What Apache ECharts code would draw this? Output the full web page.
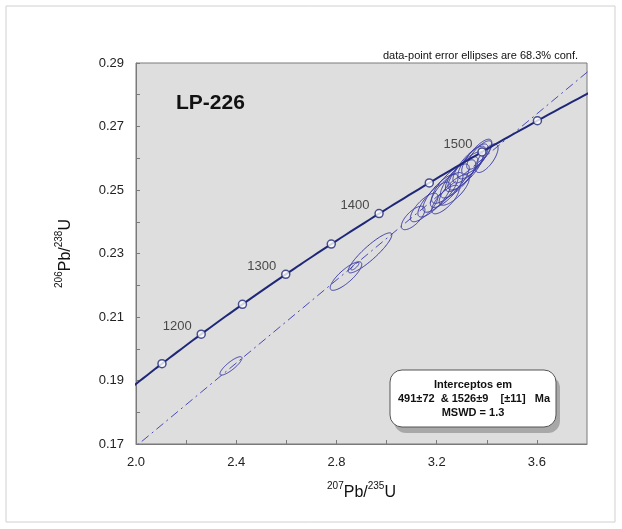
<!DOCTYPE html>
<html><head><meta charset="utf-8">
<script src="https://cdn.jsdelivr.net/npm/echarts@6/dist/echarts.min.js"></script>
<style>html,body{margin:0;padding:0;background:#fff;}#c{width:622px;height:529px;}</style>
</head><body><div id="c"></div>
<script>
// ---- data ----
const sampleName = 'LP-226';
const confNote = 'data-point error ellipses are 68.3% conf.';
const resultLines = ['Interceptos em', '491\u00b172  & 1526\u00b19    [\u00b111]   Ma', 'MSWD = 1.3'];
// decay constants (per Ma)
const lambda238 = 1.55125e-4;
const lambda235 = 9.8485e-4;
// concordia marker ages (Ma) and which get labels
const markerAges = [1150, 1200, 1250, 1300, 1350, 1400, 1450, 1500, 1550];
const labeledAges = [1200, 1300, 1400, 1500];
// discordia intercepts (Ma)
const lowerInterceptAge = 491;
const upperInterceptAge = 1526;
// error ellipses: centre (207/235, 206/238), half-widths, correlation
const ellX   = [2.379, 2.838, 2.874, 2.934, 3.106, 3.150, 3.190, 3.215, 3.235, 3.240, 3.255, 3.270, 3.285, 3.300, 3.315, 3.330, 3.345, 3.360, 3.370, 3.400];
const ellY   = [0.1946,0.2229,0.2260,0.2302,0.2412,0.2445,0.2470,0.2490,0.2470,0.2500,0.2520,0.2500,0.2535,0.2550,0.2560,0.2580,0.2590,0.2605,0.2610,0.2600];
const ellErrX= [0.044, 0.063, 0.016, 0.087, 0.047, 0.055, 0.065, 0.070, 0.055, 0.065, 0.075, 0.060, 0.070, 0.065, 0.070, 0.065, 0.060, 0.060, 0.050, 0.045];
const ellErrY= [0.0029,0.0045,0.0012,0.0063,0.0037,0.0045,0.0055,0.0060,0.0045,0.0055,0.0062,0.0048,0.0060,0.0055,0.0060,0.0058,0.0055,0.0055,0.0045,0.0045];
const ellRho = [0.85, 0.82, 0.8, 0.9, 0.7, 0.75, 0.8, 0.8, 0.75, 0.78, 0.8, 0.75, 0.8, 0.78, 0.8, 0.8, 0.78, 0.8, 0.78, 0.7];
// axes
const xMin = 2.0, xMax = 3.8, xStep = 0.2;
const yMin = 0.17, yMax = 0.29, yStep = 0.01;

// ---- derived ----
function concordia(t){ return [Math.exp(lambda235*t)-1, Math.exp(lambda238*t)-1]; }
const curve = [];
for (let t = 1000; t <= 1700; t += 5) curve.push(concordia(t));
const markers = markerAges.map(t => { const p = concordia(t); return {value:[p[0], p[1], t]}; });
const lo = concordia(lowerInterceptAge), up = concordia(upperInterceptAge);
const slope = (up[1]-lo[1])/(up[0]-lo[0]);
const discordia = [lo, up, [4.2, up[1] + slope*(4.2-up[0])]];
const ellData = ellX.map((x,i) => [x, ellY[i], ellErrX[i], ellErrY[i], ellRho[i]]);

const FONT = "'Liberation Sans', Arial, sans-serif";
const chart = echarts.init(document.getElementById('c'), null, {renderer:'canvas'});
chart.setOption({
  animation: false,
  backgroundColor: '#fff',
  grid: {left:136, right:35, top:63, bottom:85, show:true, backgroundColor:'#dedede', borderColor:'#7a7a7a', borderWidth:1},
  xAxis: {
    type:'value', min:xMin, max:xMax, interval:xStep,
    name:'{sup|207}{b|Pb/}{sup|235}{b|U}', nameLocation:'middle', nameGap:37,
    nameTextStyle:{rich:{b:{fontSize:16, fontFamily:FONT, color:'#111', verticalAlign:'bottom', lineHeight:20}, sup:{fontSize:10, fontFamily:FONT, color:'#111', verticalAlign:'top', lineHeight:20, padding:[0,0,8,0]}}},
    axisLine:{show:true, lineStyle:{color:'#7a7a7a'}},
    axisTick:{show:true, inside:true, length:4, lineStyle:{color:'#7a7a7a'}},
    axisLabel:{margin:12, fontSize:13, color:'#222', fontFamily:FONT, showMaxLabel:false,
      formatter: v => (Math.round(v*10) % 4 === 0 ? v.toFixed(1) : '')},
    splitLine:{show:false}
  },
  yAxis: {
    type:'value', min:yMin, max:yMax, interval:yStep,
    name:'{sup|206}{b|Pb/}{sup|238}{b|U}', nameLocation:'middle', nameGap:62, nameRotate:90,
    nameTextStyle:{rich:{b:{fontSize:16, fontFamily:FONT, color:'#111', verticalAlign:'bottom', lineHeight:20}, sup:{fontSize:10, fontFamily:FONT, color:'#111', verticalAlign:'top', lineHeight:20, padding:[0,0,8,0]}}},
    axisLine:{show:true, lineStyle:{color:'#7a7a7a'}},
    axisTick:{show:true, inside:true, length:4, lineStyle:{color:'#7a7a7a'}},
    axisLabel:{margin:12, fontSize:13, color:'#222', fontFamily:FONT,
      formatter: v => (Math.round(v*100) % 2 === 1 ? v.toFixed(2) : '')},
    splitLine:{show:false}
  },
  series: [
    {type:'line', data:discordia, symbol:'none', clip:true, z:2,
     lineStyle:{color:'#4a4ab4', width:1, type:[9,4,2,4]}},
    {type:'custom', clip:true, z:3, data:ellData,
     renderItem: function(params, api){
       const x0=api.value(0), y0=api.value(1), a=api.value(2), b=api.value(3), r=api.value(4);
       const s = Math.sqrt(1-r*r); const pts=[];
       for (let i=0;i<=90;i++){ const th=i/90*2*Math.PI;
         pts.push(api.coord([x0+a*Math.cos(th), y0+b*(r*Math.cos(th)+s*Math.sin(th))])); }
       return {type:'polyline', shape:{points:pts}, style:{fill:null, stroke:'#3d3da6', lineWidth:1}};
     }},
    {type:'line', data:curve, symbol:'none', clip:true, z:4,
     lineStyle:{color:'#1f2878', width:2}},
    {type:'scatter', data:markers, symbol:'circle', symbolSize:8, z:5,
     itemStyle:{color:'#fff', borderColor:'#1f2878', borderWidth:1.5},
     label:{show:true, position:'inside', offset:[-24,-8], fontSize:13, fontFamily:FONT, color:'#222',
       formatter: p => (labeledAges.indexOf(p.value[2]) >= 0 ? String(p.value[2]) : '')}}
  ],
  graphic: [
    {type:'rect', shape:{x:6, y:6, width:609, height:516}, style:{fill:'none', stroke:'#d0d0d0', lineWidth:1}, silent:true},
    {type:'text', x:578, y:56, style:{text:confNote, font:'11px '+FONT, fill:'#111', textAlign:'right', textVerticalAlign:'middle'}},
    {type:'text', x:176, y:103, style:{text:sampleName, font:'bold 21px '+FONT, fill:'#111', textAlign:'left', textVerticalAlign:'middle'}},
    {type:'rect', shape:{x:394, y:376, width:166, height:57, r:12}, style:{fill:'#a8a8a8'}, z:10},
    {type:'rect', shape:{x:390, y:370, width:166, height:57, r:12}, style:{fill:'#fff', stroke:'#555', lineWidth:1}, z:11},
    {type:'text', x:473, y:385, z:12, style:{text:resultLines[0], font:'bold 11px '+FONT, fill:'#111', textAlign:'center', textVerticalAlign:'middle'}},
    {type:'text', x:474, y:399, z:12, style:{text:resultLines[1], font:'bold 11px '+FONT, fill:'#111', textAlign:'center', textVerticalAlign:'middle'}},
    {type:'text', x:473, y:413, z:12, style:{text:resultLines[2], font:'bold 11px '+FONT, fill:'#111', textAlign:'center', textVerticalAlign:'middle'}}
  ]
});
</script></body></html>
